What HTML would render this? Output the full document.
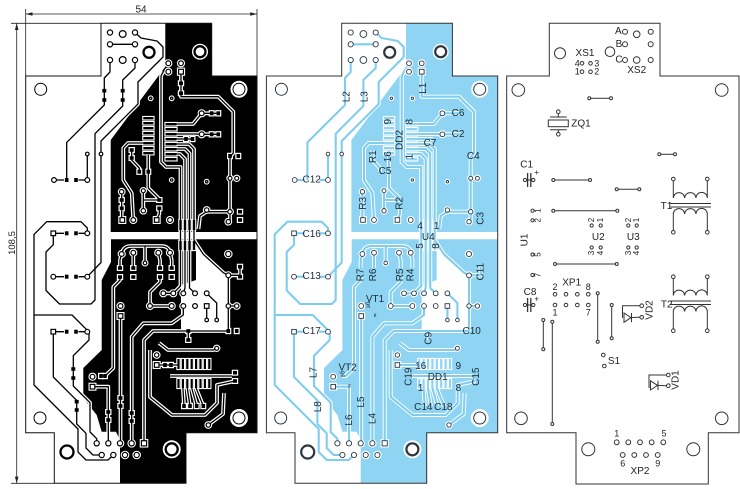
<!DOCTYPE html>
<html><head><meta charset="utf-8"><style>
html,body{margin:0;padding:0;background:#fff}
svg{display:block}
text{font-family:"Liberation Sans",Arial,sans-serif}
</style></head><body>
<svg width="740" height="489" viewBox="0 0 740 489" xmlns="http://www.w3.org/2000/svg">
<defs>
<polygon id="ol" points="101,23.3 211.7,23.3 211.7,76 257,76 257,432.7 186,432.7 186,483.3 54.3,483.3 54.3,432.7 25.7,432.7 25.7,76 101,76"/>
<g id="cu">
<polygon points="165.3,23.3 211.7,23.3 211.7,76 257,76 257,232 110.7,232 110.7,140 165.3,66.7"/>
<polygon points="111,239.3 257,239.3 257,432.7 186,432.7 186,483.3 120,483.3 120,440 116,431.7 101.7,431.7 96.7,415 83.3,398 83.3,368 101.7,350 101.7,280 111,262"/>
</g>
<polygon id="wedge" points="196,241 203,254 223,272.7 229,275.5 229,332 181,332 181,285 196,280"/>
<g id="t">
<path d="M110,60 L110,72 L104.3,78 L104.3,105 L66.7,142.4 L66.7,180"/>
<path d="M135,60 L135,68 L122.7,80 L122.7,106 L95,133.7 L95,300 L91,304 L59.5,304 L46,290.5 L46,252 L53.3,244.7 L53.3,233.3"/>
<path d="M110,44.3 L135,44.3"/>
<path d="M135,32.5 L141,38 L157,41 L163,47 L163,57 L138,82 L138,104 L101,141 L101,262.5 L87.3,276.7"/>
<path d="M54,180 L64,180 M78.5,180 L87.3,180 L87.3,154"/>
<path d="M53.3,233.3 L64,233.3 M78.5,233.3 L87.3,233.3"/>
<path d="M53.3,276.7 L64,276.7 M78.5,276.7 L87.3,276.7"/>
<path d="M53.3,331.7 L64,331.7 M78.5,331.7 L87.3,331.7"/>
<path d="M87.3,233.3 L87.3,228 L81,221.7 L46.7,221.7 L34,234.4 L34,385 L78,429 L78,452 L86,460 L108,460 L113.3,455"/>
<path d="M34,315 L72,315 L87.3,330.3"/>
<path d="M53.3,331.7 L53.3,377 L76.7,400.4 L76.7,424 L86,433.3 L86,448 L93,455 L101.7,455"/>
<path d="M87.3,331.7 L89,333.5 L89,340 L73.3,355.7 L73.3,386 L90,402.7 L90,432 L96.7,438.7 L96.7,443.3"/>
<path d="M92.5,386.7 L108.3,386.7 L108.3,443.3"/>
<path d="M101,376 L105,376 L113.3,368 L113.3,287 L120,280 L120,277"/>
<path d="M120.5,316 L120.5,443.3"/>
<path d="M131.7,443.3 L131.7,336.7 L143.3,323.3 L171.7,323.3 L183.3,315 L183.3,306"/>
<path d="M144,443.3 L144,340 L153,331 L228.3,331"/>
<path d="M121.7,254 L120,260 L120,268 M133.3,252.7 L133.3,268 M158.3,252.7 L160,260 L160,268 M170,252.7 L171.7,260 L171.7,268"/>
<path d="M121.7,254 Q123,246 131,246 L161,246 Q169,246 170,252.7 M145,246 L145,263"/>
<path d="M160,277 L160,282 L150,292 L150,306"/>
<path d="M163.3,293.3 L173.3,293.3 M150,306 L171.7,306 M206.7,306 L206.7,320 M206.7,293.3 L216.7,303 L216.7,320"/>
<path d="M163.3,71.7 L161,76 L161,162 L166,167 L180.5,167 L180.5,286 L173.3,293.3"/>
<path d="M176.5,154 L180,154 L185,159 L185,288 L183.3,293.3"/>
<path d="M176.5,149 L185,149 L189.5,153.5 L189.5,288 L195,293.3"/>
<path d="M176.5,144 L189,144 L194,149 L194,240 L203.3,254.3 L223.3,272.7 L228.3,275.3"/>
<path d="M181,71.7 L181,96.7 L218.3,96.7 L233.3,111.7 L233.3,153 L230,157 L230,221.7"/>
<path d="M176.5,124 L193,124 L201.7,113.3 L220,113.3 M176.5,134 L195,134 L201.7,134.3 L220,134.3"/>
<path d="M176.5,139 L192.5,139"/>
<path d="M230,211.7 L206.7,211.7 L200,216 L198.5,229"/>
<path d="M143.3,143 L128,143 L123.3,148 L123.3,180 L131.7,193 L133.3,220"/>
<path d="M131.7,150 L131.7,160 L139.3,168 L139.3,171.7"/>
<path d="M121.7,191.7 L121.7,220"/>
<path d="M143.3,190.7 L143.3,210.7 M143.3,200 L159.3,200 M159.3,208.3 L159.3,214 L156.7,220 M148.3,155 L148.3,188 L159.3,199"/>
<path d="M228.3,275.3 L228.3,331 M228.3,275.3 L240,275.3 L240,266.7 M228.3,306 L236.7,306"/>
<path d="M156.7,365 L178,365 M159,343 L168,350 L213.3,350 L216.7,348.3 M170,376 L232,376 M188.3,331 L188.3,340"/>
<path d="M182.9,388 L184,406 M187.3,388 L190,406 M191.7,388 L196.7,406 M196.1,388 L203.3,406"/>
<path d="M150,350 L150,397 L172,415 L205,415 L217,403 L217,385 L235,381"/>
<path d="M208.3,425 L223,414 L224,393"/>
</g>
<g id="ic">
<rect x="143.3" y="117" width="10.2" height="2.4"/><rect x="143.3" y="122" width="10.2" height="2.4"/><rect x="143.3" y="127" width="10.2" height="2.4"/><rect x="143.3" y="132" width="10.2" height="2.4"/><rect x="143.3" y="137" width="10.2" height="2.4"/><rect x="143.3" y="142" width="10.2" height="2.4"/><rect x="143.3" y="147" width="10.2" height="2.4"/><rect x="143.3" y="152" width="10.2" height="2.4"/>
<rect x="165.5" y="123" width="11" height="2.4"/><rect x="165.5" y="128" width="11" height="2.4"/><rect x="165.5" y="133" width="11" height="2.4"/><rect x="165.5" y="138" width="11" height="2.4"/><rect x="165.5" y="143" width="11" height="2.4"/><rect x="165.5" y="148" width="11" height="2.4"/><rect x="165.5" y="153" width="11" height="2.4"/><rect x="165.5" y="158" width="11" height="2.4"/>
<rect x="179.3" y="220" width="2.4" height="10"/><rect x="183.8" y="220" width="2.4" height="10"/><rect x="188.3" y="220" width="2.4" height="10"/><rect x="192.8" y="220" width="2.4" height="10"/>
<rect x="179.3" y="241" width="2.4" height="9"/><rect x="183.8" y="241" width="2.4" height="9"/><rect x="188.3" y="241" width="2.4" height="9"/><rect x="192.8" y="241" width="2.4" height="9"/>
<rect x="177.4" y="359" width="2.2" height="10"/><rect x="181.8" y="359" width="2.2" height="10"/><rect x="186.2" y="359" width="2.2" height="10"/><rect x="190.6" y="359" width="2.2" height="10"/><rect x="195" y="359" width="2.2" height="10"/><rect x="199.4" y="359" width="2.2" height="10"/><rect x="203.8" y="359" width="2.2" height="10"/><rect x="208.2" y="359" width="2.2" height="10"/>
<rect x="177.4" y="379" width="2.2" height="9"/><rect x="181.8" y="379" width="2.2" height="9"/><rect x="186.2" y="379" width="2.2" height="9"/><rect x="190.6" y="379" width="2.2" height="9"/><rect x="195" y="379" width="2.2" height="9"/><rect x="199.4" y="379" width="2.2" height="9"/><rect x="203.8" y="379" width="2.2" height="9"/><rect x="208.2" y="379" width="2.2" height="9"/>
</g>
<g id="s">
<rect x="102.3" y="88.9" width="4" height="3.6"/><rect x="102.3" y="98.2" width="4" height="3.6"/>
<rect x="120.7" y="88.9" width="4" height="3.6"/><rect x="120.7" y="98.2" width="4" height="3.6"/>
<rect x="179" y="81.5" width="4" height="3.6"/><rect x="179" y="91.5" width="4" height="3.6"/>
<rect x="64.9" y="178" width="3.6" height="4"/><rect x="74.2" y="178" width="3.6" height="4"/>
<rect x="64.9" y="231.3" width="3.6" height="4"/><rect x="74.2" y="231.3" width="3.6" height="4"/>
<rect x="64.9" y="274.7" width="3.6" height="4"/><rect x="74.2" y="274.7" width="3.6" height="4"/>
<rect x="64.9" y="329.7" width="3.6" height="4"/><rect x="74.2" y="329.7" width="3.6" height="4"/>
<rect x="209.9" y="111.3" width="3.6" height="4"/><rect x="216.5" y="111.3" width="3.6" height="4"/>
<rect x="209.9" y="132.3" width="3.6" height="4"/><rect x="216.5" y="132.3" width="3.6" height="4"/>
<rect x="184.2" y="137" width="3.6" height="4"/><rect x="190.7" y="137" width="3.6" height="4"/>
<rect x="228.2" y="154" width="3.6" height="4"/><rect x="236.5" y="154" width="3.6" height="4"/>
<rect x="137.5" y="169.7" width="3.6" height="4"/><rect x="146.5" y="169.7" width="3.6" height="4"/>
<rect x="129.7" y="148.2" width="4" height="3.6"/><rect x="129.7" y="156.2" width="4" height="3.6"/>
<rect x="119.7" y="198.2" width="4" height="3.6"/><rect x="119.7" y="206.5" width="4" height="3.6"/>
<rect x="157.3" y="198.2" width="4" height="3.6"/><rect x="157.3" y="206.5" width="4" height="3.6"/>
<rect x="238" y="209.9" width="4" height="3.6"/><rect x="238" y="218.2" width="4" height="3.6"/>
<rect x="118" y="266.2" width="4" height="3.6"/><rect x="118" y="275.2" width="4" height="3.6"/>
<rect x="131.3" y="266.2" width="4" height="3.6"/><rect x="131.3" y="275.2" width="4" height="3.6"/>
<rect x="158" y="266.2" width="4" height="3.6"/><rect x="158" y="275.2" width="4" height="3.6"/>
<rect x="169.7" y="266.2" width="4" height="3.6"/><rect x="169.7" y="275.2" width="4" height="3.6"/>
<rect x="238" y="264.9" width="4" height="3.6"/><rect x="238" y="274.9" width="4" height="3.6"/>
<rect x="226.5" y="329" width="3.6" height="4"/><rect x="234.9" y="329" width="3.6" height="4"/>
<rect x="186.3" y="329.2" width="4" height="3.6"/><rect x="186.3" y="338.2" width="4" height="3.6"/>
<rect x="71.3" y="367.2" width="4" height="3.6"/><rect x="71.3" y="376.2" width="4" height="3.6"/>
<rect x="74.7" y="399.9" width="4" height="3.6"/><rect x="74.7" y="408.2" width="4" height="3.6"/>
<rect x="106.3" y="410.2" width="4" height="3.6"/><rect x="106.3" y="418.2" width="4" height="3.6"/>
<rect x="118.5" y="396.2" width="4" height="3.6"/><rect x="118.5" y="404.2" width="4" height="3.6"/>
<rect x="129.7" y="411.2" width="4" height="3.6"/><rect x="129.7" y="419.2" width="4" height="3.6"/>
<rect x="163.2" y="363" width="3.6" height="4"/><rect x="169.2" y="363" width="3.6" height="4"/>
<rect x="233" y="370.9" width="4" height="3.6"/><rect x="233" y="379.2" width="4" height="3.6"/>
<rect x="182.2" y="404" width="3.6" height="4"/><rect x="188.2" y="404" width="3.6" height="4"/><rect x="194.9" y="404" width="3.6" height="4"/><rect x="201.5" y="404" width="3.6" height="4"/>
<rect x="99.2" y="374" width="3.6" height="4"/><rect x="103.2" y="374" width="3.6" height="4"/>
</g>
<g id="p">
<circle cx="110" cy="32.5" r="2.6"/><circle cx="135" cy="32.5" r="2.6"/><circle cx="110" cy="44.3" r="2.6"/><circle cx="135" cy="44.3" r="2.6"/><circle cx="110" cy="60" r="2.6"/><circle cx="135" cy="60" r="2.6"/><circle cx="122.7" cy="34" r="3.4"/><circle cx="122.7" cy="60" r="3.4"/>
<circle cx="168.3" cy="63.3" r="2.4"/><circle cx="181" cy="63.3" r="2.4"/><circle cx="168.3" cy="71.7" r="2.4"/><rect x="178.6" y="69.3" width="4.8" height="4.8"/>
<circle cx="54" cy="180" r="2.4"/><circle cx="87.3" cy="180" r="2.4"/><circle cx="87.3" cy="154" r="1.8"/><circle cx="101" cy="154" r="1.8"/>
<rect x="51" y="231" width="4.6" height="4.6"/><circle cx="87.3" cy="233.3" r="2.4"/>
<circle cx="53.3" cy="276.7" r="2.4"/><circle cx="87.3" cy="276.7" r="2.4"/>
<rect x="51" y="329.4" width="4.6" height="4.6"/><circle cx="87.3" cy="331.7" r="2.4"/>
<circle cx="201.7" cy="113.3" r="2.4"/><circle cx="201.7" cy="134.3" r="2.4"/>
<circle cx="230" cy="178.3" r="2"/><circle cx="236.7" cy="178.3" r="2"/>
<circle cx="230" cy="211.7" r="2.2"/><circle cx="228.3" cy="221.7" r="2.2"/><circle cx="206.7" cy="210" r="2.2"/>
<circle cx="121.7" cy="191.7" r="2.2"/><rect x="120" y="217.7" width="4.6" height="4.6"/><circle cx="133.3" cy="220" r="2.4"/><circle cx="143.3" cy="190.7" r="2"/><circle cx="143.3" cy="210.7" r="2.2"/><rect x="154.4" y="217.7" width="4.6" height="4.6"/><circle cx="170" cy="220" r="2.4"/>
<circle cx="121.7" cy="254" r="2.4"/><circle cx="133.3" cy="252.7" r="2.4"/><circle cx="158.3" cy="252.7" r="2.4"/><circle cx="170" cy="252.7" r="2.4"/><circle cx="145" cy="263" r="1.8"/><circle cx="228.3" cy="254" r="2.6"/>
<circle cx="163.3" cy="293.3" r="2.4"/><circle cx="173.3" cy="293.3" r="2.4"/><circle cx="183.3" cy="293.3" r="2.4"/><circle cx="195" cy="293.3" r="2.4"/><circle cx="206.7" cy="293.3" r="2.4"/>
<circle cx="150" cy="306" r="2.4"/><circle cx="171.7" cy="306" r="2.4"/><circle cx="183.3" cy="306" r="2.4"/><circle cx="195" cy="306" r="2.4"/><rect x="204.4" y="303.7" width="4.6" height="4.6"/>
<circle cx="206.7" cy="320" r="1.8"/><circle cx="216.7" cy="320" r="1.8"/>
<circle cx="228.3" cy="275.3" r="2.4"/><circle cx="228.3" cy="306" r="2.2"/><circle cx="236.7" cy="306" r="2.2"/>
<circle cx="120.5" cy="306" r="2.4"/><rect x="118.2" y="313.7" width="4.6" height="4.6"/>
<circle cx="156.7" cy="355" r="2.2"/><rect x="154.4" y="362.7" width="4.6" height="4.6"/><circle cx="216.7" cy="348.3" r="2"/><circle cx="208.3" cy="425" r="2.2"/>
<circle cx="92.5" cy="376.7" r="2.4"/><rect x="90.2" y="384.4" width="4.6" height="4.6"/>
<circle cx="96.7" cy="443.3" r="2.6"/><circle cx="108.3" cy="443.3" r="2.6"/><circle cx="120" cy="443.3" r="2.6"/><circle cx="131.7" cy="443.3" r="2.6"/><rect x="141.4" y="440.7" width="5.2" height="5.2"/>
<circle cx="101.7" cy="455" r="2.6"/><circle cx="113.3" cy="455" r="2.6"/><circle cx="125" cy="455" r="2.6"/><circle cx="136.7" cy="455" r="2.6"/>
<circle cx="150.7" cy="98.3" r="1.2"/><circle cx="171.7" cy="98.3" r="1.2"/><circle cx="171.7" cy="180" r="1.2"/><circle cx="206.7" cy="181.7" r="1.2"/>
</g>
<g id="halo">
<circle cx="239" cy="89.3" r="8.5"/><circle cx="239" cy="418" r="9"/><circle cx="200" cy="51.7" r="8"/><circle cx="171.7" cy="449.3" r="9"/>
</g>
<g id="hole">
<circle cx="40.7" cy="89.3" r="6"/><circle cx="40" cy="418" r="6"/><circle cx="239" cy="89.3" r="6"/><circle cx="239" cy="418" r="6"/>
</g>
<g id="ring">
<circle cx="149" cy="52.3" r="5.5"/><circle cx="200" cy="51.7" r="5.5"/><circle cx="67" cy="452" r="6.5"/><circle cx="171.7" cy="449.3" r="6"/>
</g>
</defs>

<!-- dimension lines -->
<g stroke="#222" stroke-width="0.8" fill="none">
<line x1="25.7" y1="9" x2="25.7" y2="76"/>
<line x1="257" y1="9" x2="257" y2="76"/>
<line x1="25.7" y1="14" x2="257" y2="14"/>
<line x1="11" y1="23.3" x2="101" y2="23.3"/>
<line x1="11" y1="483.3" x2="54.3" y2="483.3"/>
<line x1="16.7" y1="23.3" x2="16.7" y2="483.3"/>
</g>
<g fill="#222">
<polygon points="25.7,14 32.5,12.2 32.5,15.8"/>
<polygon points="257,14 250.2,12.2 250.2,15.8"/>
<polygon points="16.7,23.3 14.9,30 18.5,30"/>
<polygon points="16.7,483.3 14.9,476.6 18.5,476.6"/>
</g>
<text x="141" y="12.5" font-size="10" text-anchor="middle" fill="#222">54</text>
<text transform="translate(12.3,243) rotate(-90)" font-size="9.5" text-anchor="middle" dominant-baseline="central" fill="#222">108,5</text>

<!-- LEFT BOARD -->
<g>
<use href="#ol" fill="#fff"/>
<use href="#cu" fill="#000"/>
<use href="#wedge" fill="#fff"/>
<use href="#halo" fill="#fff"/>
<use href="#t" fill="none" stroke="#fff" stroke-width="3.8" stroke-linejoin="round"/>
<use href="#ic" fill="#fff" stroke="#fff" stroke-width="2.2"/>
<use href="#s" fill="#fff" stroke="#fff" stroke-width="2.4"/>
<use href="#p" fill="#fff" stroke="#fff" stroke-width="3.4"/>
<use href="#t" fill="none" stroke="#000" stroke-width="1.3" stroke-linejoin="round"/>
<use href="#ic" fill="#000"/>
<use href="#s" fill="#000"/>
<use href="#p" fill="#fff" stroke="#000" stroke-width="1.2"/>
<use href="#hole" fill="#fff" stroke="#000" stroke-width="1"/>
<use href="#ring" fill="#fff" stroke="#000" stroke-width="2.3"/>
<use href="#ol" fill="none" stroke="#111" stroke-width="1"/>
</g>

<!-- MIDDLE BOARD -->
<g transform="translate(240.7,0)">
<use href="#ol" fill="#fff"/>
<use href="#cu" fill="#8fd5f3"/>
<use href="#wedge" fill="#fff"/>
<use href="#halo" fill="#fff"/>
<use href="#t" fill="none" stroke="#fff" stroke-width="4" stroke-linejoin="round"/>
<use href="#ic" fill="#fff" stroke="#fff" stroke-width="2.2"/>
<use href="#p" fill="#fff" stroke="#fff" stroke-width="3.2"/>
<use href="#t" fill="none" stroke="#7fcdef" stroke-width="2.1" stroke-linejoin="round"/>
<use href="#ic" fill="#8fd5f3"/>
<use href="#p" fill="#fff" stroke="#2b3640" stroke-width="0.9"/>
<use href="#hole" fill="#fff" stroke="#2b3640" stroke-width="1"/>
<use href="#ring" fill="#fff" stroke="#2b3640" stroke-width="2.2"/>
<use href="#ol" fill="none" stroke="#333" stroke-width="1"/>
</g>
<g font-size="10" fill="#1d2b36" text-anchor="middle" dominant-baseline="central">
<text transform="translate(347,96.7) rotate(-90)">L2</text>
<text transform="translate(365,96.7) rotate(-90)">L3</text>
<text transform="translate(423.3,88.3) rotate(-90)">L1</text>
<text x="458" y="113.3">C6</text>
<text x="458" y="134.3">C2</text>
<text transform="translate(388.3,121.7) rotate(-90)">9</text>
<text transform="translate(410,121.7) rotate(-90)">8</text>
<text transform="translate(400,140) rotate(-90)">DD2</text>
<text x="430" y="143.3">C7</text>
<text transform="translate(373.3,156.7) rotate(-90)">R1</text>
<text transform="translate(388.3,156.7) rotate(-90)">16</text>
<text transform="translate(410,156.7) rotate(-90)">1</text>
<text x="385" y="171.7">C5</text>
<text x="473.3" y="156.7">C4</text>
<text x="311.7" y="180">C12</text>
<text transform="translate(363.3,203.3) rotate(-90)">R3</text>
<text transform="translate(400,203.3) rotate(-90)">R2</text>
<text transform="translate(481,218.3) rotate(-90)">C3</text>
<text x="420" y="226.7">4</text>
<text x="436.7" y="226.7">1</text>
<text x="428.3" y="237.3">U4</text>
<text x="311.7" y="234.3">C16</text>
<text transform="translate(420.7,246) rotate(-90)">5</text>
<text transform="translate(436.7,246) rotate(-90)">8</text>
<text x="311.7" y="276.7">C13</text>
<text transform="translate(361,275) rotate(-90)">R7</text>
<text transform="translate(373.3,275) rotate(-90)">R6</text>
<text transform="translate(400.7,275) rotate(-90)">R5</text>
<text transform="translate(411,275) rotate(-90)">R4</text>
<text transform="translate(481,271.7) rotate(-90)">C11</text>
<text x="375" y="299.3">VT1</text>
<text transform="translate(429,338.3) rotate(-90)">C9</text>
<text x="471.7" y="331.7">C10</text>
<text x="311.7" y="331.7">C17</text>
<text transform="translate(313.8,372.5) rotate(-90)">L7</text>
<text x="347.7" y="368">VT2</text>
<text x="420.7" y="366.7">16</text>
<text x="458.3" y="366.7">9</text>
<text transform="translate(409,376.7) rotate(-90)">C19</text>
<text x="437.7" y="377.7">DD1</text>
<text transform="translate(476.7,376.7) rotate(-90)">C15</text>
<text x="420.7" y="388.3">1</text>
<text x="458.3" y="388.3">8</text>
<text transform="translate(318.3,406.7) rotate(-90)">L8</text>
<text transform="translate(349.7,420) rotate(-90)">L6</text>
<text transform="translate(361.5,402) rotate(-90)">L5</text>
<text transform="translate(373.2,418.5) rotate(-90)">L4</text>
<text x="423.3" y="407.7">C14</text>
<text x="443.3" y="407.7">C18</text>
</g>
<g font-size="6" fill="#1d2b36" text-anchor="middle" dominant-baseline="central">
<text transform="translate(369,305) rotate(-90)">эб</text>
<text x="375" y="316">к</text>
<text transform="translate(343.5,374) rotate(-90)">эб</text>
<text x="349.5" y="386.5">к</text>
</g>

<!-- RIGHT BOARD -->
<polygon points="549.3,23.3 660,23.3 660,76 739,76 739,432.7 708.3,432.7 708.3,484 576,484 576,432.7 506.7,432.7 506.7,76 549.3,76" fill="#fff" stroke="#333" stroke-width="1"/>
<g fill="#fff" stroke="#333" stroke-width="1">
<circle cx="518.3" cy="90" r="6.3"/><circle cx="721.7" cy="90" r="6.3"/><circle cx="521" cy="418.3" r="6.3"/><circle cx="721.7" cy="418.3" r="6.3"/>
<circle cx="588.3" cy="449.3" r="6.5"/><circle cx="693.3" cy="449.3" r="6.5"/>
<circle cx="560" cy="53.3" r="5.5"/><circle cx="610" cy="51.7" r="4.8"/>
</g>
<g stroke="#333" stroke-width="1" fill="none">
<line x1="589.3" y1="98.3" x2="611" y2="98.3"/>
<line x1="659.3" y1="154.3" x2="675" y2="154.3"/>
<line x1="553.3" y1="180" x2="590" y2="180"/>
<line x1="616.7" y1="189.3" x2="639.3" y2="189.3"/>
<line x1="553.3" y1="210.7" x2="617.3" y2="210.7"/>
<line x1="555" y1="264" x2="616.7" y2="264"/>
<line x1="597.7" y1="293.3" x2="597.7" y2="341.7"/>
<line x1="611.7" y1="305" x2="611.7" y2="338.3"/>
<line x1="543.3" y1="320" x2="543.3" y2="349.3"/>
<line x1="552.3" y1="321.7" x2="552.3" y2="424"/>
<line x1="558.3" y1="113.5" x2="558.3" y2="117"/>
<line x1="550" y1="117" x2="566.7" y2="117"/>
<rect x="548.3" y="120" width="20" height="6.7"/>
<line x1="550" y1="129.7" x2="566.7" y2="129.7"/>
<line x1="558.3" y1="129.7" x2="558.3" y2="132.5"/>
<line x1="525" y1="180" x2="533.3" y2="180"/>
<line x1="527.6" y1="173" x2="527.6" y2="187" stroke-width="1.3"/>
<line x1="530.8" y1="173" x2="530.8" y2="187" stroke-width="1.3"/>
<line x1="525" y1="305" x2="533.3" y2="305"/>
<line x1="527.6" y1="298" x2="527.6" y2="312" stroke-width="1.3"/>
<line x1="530.8" y1="298" x2="530.8" y2="312" stroke-width="1.3"/>
<path d="M673.3,179 V198 a5.67,5.67 0 0 1 11.33,0 a5.67,5.67 0 0 1 11.33,0 a5.67,5.67 0 0 1 11.34,0 V179"/>
<line x1="670" y1="203.5" x2="711" y2="203.5"/><line x1="670" y1="207" x2="711" y2="207"/>
<path d="M673.3,232.3 V214 a5.67,5.67 0 0 1 11.33,0 a5.67,5.67 0 0 1 11.33,0 a5.67,5.67 0 0 1 11.34,0 V232.3"/>
<path d="M673.3,276.7 V295.5 a5.67,5.67 0 0 1 11.33,0 a5.67,5.67 0 0 1 11.33,0 a5.67,5.67 0 0 1 11.34,0 V276.7"/>
<line x1="670" y1="301" x2="711" y2="301"/><line x1="670" y1="304.5" x2="711" y2="304.5"/>
<path d="M673.3,330.7 V311.5 a5.67,5.67 0 0 1 11.33,0 a5.67,5.67 0 0 1 11.33,0 a5.67,5.67 0 0 1 11.34,0 V330.7"/>
<path d="M639.9,305.7 L622.5,305.7 L622.5,318"/>
<line x1="631.5" y1="313" x2="631.5" y2="322.3"/>
<line x1="631.5" y1="317.5" x2="639.9" y2="317.3"/>
<path d="M666.5,375 L649,375 L649,388"/>
<line x1="658" y1="380.8" x2="658" y2="390"/>
<line x1="658" y1="385.4" x2="666.5" y2="385.7"/>
</g>
<polygon points="624,313 624,322.3 631,317.6" fill="#fff" stroke="#333" stroke-width="1"/>
<polygon points="650.5,380.8 650.5,390 657.5,385.4" fill="#fff" stroke="#333" stroke-width="1"/>
<g fill="#fff" stroke="#333" stroke-width="1">
<circle cx="589.3" cy="98.3" r="1.5"/><circle cx="611" cy="98.3" r="1.5"/>
<circle cx="659.3" cy="154.3" r="1.5"/><circle cx="675" cy="154.3" r="1.5"/>
<circle cx="553.3" cy="180" r="1.5"/><circle cx="590" cy="180" r="1.5"/>
<circle cx="616.7" cy="189.3" r="1.5"/><circle cx="639.3" cy="189.3" r="1.5"/>
<circle cx="553.3" cy="210.7" r="1.5"/><circle cx="617.3" cy="210.7" r="1.5"/>
<circle cx="555" cy="264" r="1.5"/><circle cx="616.7" cy="264" r="1.5"/>
<circle cx="597.7" cy="293.3" r="1.5"/><circle cx="597.7" cy="341.7" r="1.5"/>
<circle cx="611.7" cy="305" r="1.5"/><circle cx="611.7" cy="338.3" r="1.5"/>
<circle cx="543.3" cy="320" r="1.5"/><circle cx="543.3" cy="349.3" r="1.5"/>
<circle cx="552.3" cy="321.7" r="1.5"/><circle cx="552.3" cy="424" r="1.5"/>
<circle cx="558.3" cy="111.7" r="1.8"/><circle cx="558.3" cy="134.3" r="1.8"/>
<circle cx="525" cy="180" r="1.6"/><circle cx="533.3" cy="180" r="1.6"/>
<circle cx="525" cy="305" r="1.6"/><circle cx="533.3" cy="305" r="1.6"/>
<circle cx="673.3" cy="179" r="1.8"/><circle cx="707.3" cy="179" r="1.8"/><circle cx="673.3" cy="232.3" r="1.8"/><circle cx="707.3" cy="232.3" r="1.8"/>
<circle cx="673.3" cy="276.7" r="1.8"/><circle cx="707.3" cy="276.7" r="1.8"/><circle cx="673.3" cy="330.7" r="1.8"/><circle cx="707.3" cy="330.7" r="1.8"/>
<circle cx="582" cy="63.3" r="1.8"/><circle cx="590.5" cy="63.3" r="1.8"/><circle cx="582" cy="71.7" r="1.8"/><circle cx="590.5" cy="71.7" r="1.8"/>
<circle cx="625" cy="31.7" r="2.5"/><circle cx="625" cy="44.3" r="2.5"/><circle cx="625" cy="60" r="2.5"/>
<circle cx="636.7" cy="34.3" r="3.3"/><circle cx="636.7" cy="60" r="3.3"/>
<circle cx="650.7" cy="31.7" r="2.5"/><circle cx="650.7" cy="44.3" r="2.5"/><circle cx="650.7" cy="60" r="2.5"/>
<circle cx="532.5" cy="210.7" r="1.6"/><circle cx="532.5" cy="220.3" r="1.6"/><circle cx="532.5" cy="254.5" r="1.6"/><circle cx="532.5" cy="275" r="1.6"/>
<circle cx="591.7" cy="225.5" r="1.6"/><circle cx="600.7" cy="225.5" r="1.6"/><circle cx="628.3" cy="225.5" r="1.6"/><circle cx="636.7" cy="225.5" r="1.6"/>
<circle cx="591.7" cy="247.5" r="1.6"/><circle cx="600.7" cy="247.5" r="1.6"/><circle cx="628.3" cy="247.5" r="1.6"/><circle cx="636.7" cy="247.5" r="1.6"/>
<circle cx="555" cy="294.3" r="1.8"/><circle cx="566" cy="294.3" r="1.8"/><circle cx="577.3" cy="294.3" r="1.8"/><circle cx="588.3" cy="294.3" r="1.8"/>
<circle cx="555" cy="305" r="1.8"/><circle cx="566" cy="305" r="1.8"/><circle cx="577.3" cy="305" r="1.8"/><circle cx="588.3" cy="305" r="1.8"/>
<circle cx="641.7" cy="305.7" r="1.8"/><circle cx="641.7" cy="317.3" r="1.8"/>
<circle cx="668.3" cy="375" r="1.8"/><circle cx="668.3" cy="385.7" r="1.8"/>
<circle cx="603.3" cy="355" r="1.8"/><circle cx="604.3" cy="366" r="1.8"/>
<circle cx="616.7" cy="442.3" r="2.4"/><circle cx="628.3" cy="442.3" r="2.4"/><circle cx="640" cy="442.3" r="2.4"/><circle cx="651.7" cy="442.3" r="2.4"/><circle cx="663.3" cy="442.3" r="2.4"/>
<circle cx="622.7" cy="455" r="2.4"/><circle cx="634.3" cy="455" r="2.4"/><circle cx="646" cy="455" r="2.4"/><circle cx="657.7" cy="455" r="2.4"/>
</g>
<g font-size="10" fill="#222" text-anchor="middle" dominant-baseline="central">
<text x="585" y="53.3">XS1</text>
<text x="636.7" y="70.5">XS2</text>
<text x="618.3" y="31.7">A</text>
<text x="619" y="44.3">B</text>
<text x="619" y="60">C</text>
<text x="581" y="124">ZQ1</text>
<text x="526.7" y="165">C1</text>
<text x="666.5" y="206.7">T1</text>
<text transform="translate(525,240) rotate(-90)">U1</text>
<text x="598.3" y="237.3">U2</text>
<text x="633.3" y="237.3">U3</text>
<text x="530" y="292.3">C8</text>
<text x="571.7" y="283">XP1</text>
<text x="666.7" y="305">T2</text>
<text transform="translate(650,310) rotate(-90)">VD2</text>
<text x="614" y="361.7">S1</text>
<text transform="translate(676,380) rotate(-90)">VD1</text>
<text x="640" y="471.7">XP2</text>
</g>
<g font-size="9" fill="#222" text-anchor="middle" dominant-baseline="central">
<text x="577.3" y="63.3">4</text><text x="596.7" y="63.3">3</text>
<text x="577.3" y="71.7">1</text><text x="596.7" y="71.7">2</text>
<text x="555" y="287">2</text><text x="588.3" y="287">8</text>
<text x="555" y="312.7">1</text><text x="588.3" y="312.7">7</text>
<text x="616.7" y="433.3">1</text><text x="664" y="433.3">5</text>
<text x="622.7" y="463.3">6</text><text x="657.7" y="463.3">9</text>
<text x="536.7" y="172.5" font-size="8">+</text>
<text x="536.7" y="299" font-size="8">+</text>
</g>
<g font-size="8" fill="#222" text-anchor="middle" dominant-baseline="central">
<text transform="translate(538,210.7) rotate(-90)">1</text>
<text transform="translate(538,220.3) rotate(-90)">2</text>
<text transform="translate(538,254.5) rotate(-90)">5</text>
<text transform="translate(538,275) rotate(-90)">7</text>
<text transform="translate(591.7,220) rotate(-90)">2</text>
<text transform="translate(600.7,220) rotate(-90)">1</text>
<text transform="translate(628.3,220) rotate(-90)">2</text>
<text transform="translate(636.7,220) rotate(-90)">1</text>
<text transform="translate(591.7,253) rotate(-90)">3</text>
<text transform="translate(600.7,253) rotate(-90)">4</text>
<text transform="translate(628.3,253) rotate(-90)">3</text>
<text transform="translate(636.7,253) rotate(-90)">4</text>
</g>
</svg>
</body></html>
